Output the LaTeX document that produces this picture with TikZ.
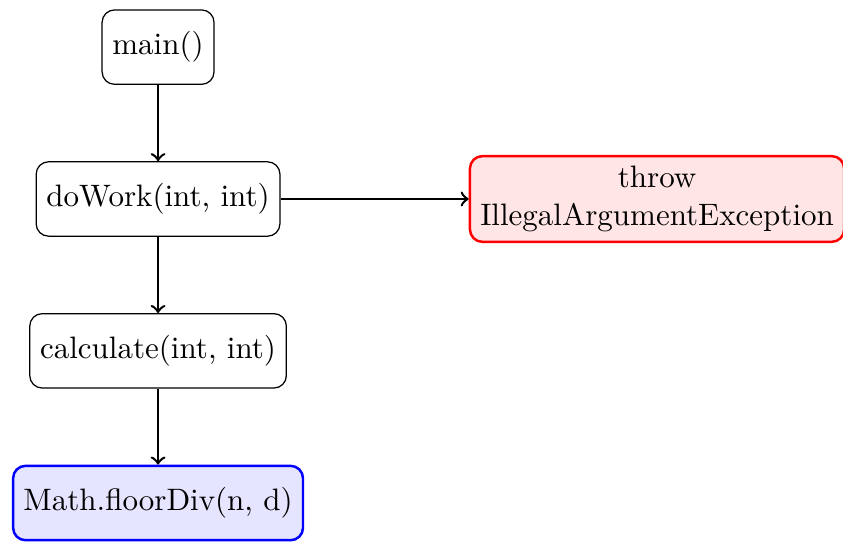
\documentclass[tikz,border=0pt]{standalone}
\begin{document}
\begin{tikzpicture}[x=1pt,y=1pt,
  callbox/.style={draw, rounded corners=4pt, minimum height=24pt, inner sep=3.33pt, align=center},
  errbox/.style={callbox, draw=red, fill=red!10, thick},
  libbox/.style={callbox, draw=blue, fill=blue!10, thick},
  flow/.style={->, thick}]
  \useasboundingbox (0,0) rectangle (272,-174.8);
  \node[callbox] (main) at (51,-15.2) {main()};
  \node[callbox] (work) at (51,-64.2) {doWork(int, int)};
  \node[callbox] (calc) at (51,-113.2) {calculate(int, int)};
  \node[libbox]  (div)  at (51,-162.3) {Math.floorDiv(n, d)};
  \node[errbox]  (exc)  at (212,-64.2) {throw\\IllegalArgumentException};
  \draw[flow] (main) -- (work);
  \draw[flow] (work) -- (calc);
  \draw[flow] (calc) -- (div);
  \draw[flow] (work) -- (exc);
\end{tikzpicture}
\end{document}
